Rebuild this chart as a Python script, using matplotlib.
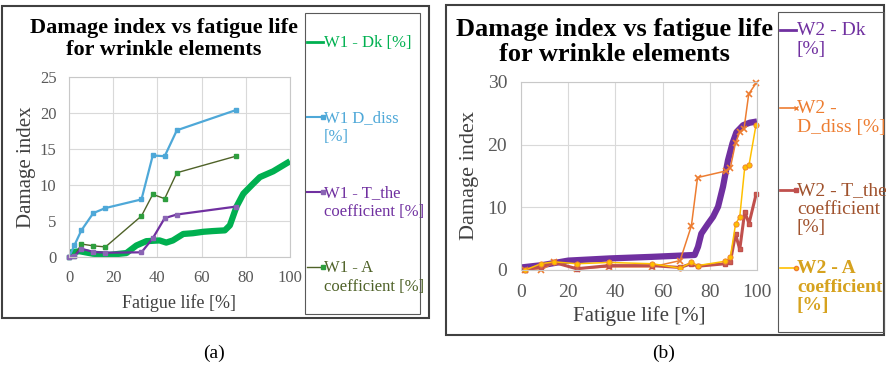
import matplotlib
matplotlib.use("Agg")
import matplotlib.pyplot as plt
from matplotlib.lines import Line2D
from matplotlib.patches import Rectangle

plt.rcParams['font.family'] = ['Liberation Serif', 'DejaVu Serif']

# ---- panel (a) data, W1 ----
w1_dk_x = [0, 2, 4.8, 10.9, 18.4, 26, 30.5, 35, 41, 44, 47, 51.7, 56, 60.7, 65, 70.5, 72.8, 75.8, 78.9, 83.4, 86.4, 92.4, 100]
w1_dk_y = [0.6, 0.7, 0.8, 0.45, 0.3, 0.55, 1.6, 2.2, 2.3, 2.0, 2.3, 3.2, 3.3, 3.5, 3.6, 3.7, 4.4, 7.0, 8.8, 10.2, 11.1, 11.9, 13.3]
w1_x = [0, 2.4, 5.6, 11, 16.5, 32.8, 37.9, 43.3, 48.8, 75.5]
w1_ddiss = [0, 1.6, 3.7, 6.1, 6.8, 8.0, 14.1, 14.0, 17.6, 20.4]
w1_tthe = [0, 0.1, 1.15, 0.7, 0.6, 0.65, 2.6, 5.4, 5.9, 7.0]
w1_acoef = [0, 0.1, 1.8, 1.55, 1.4, 5.7, 8.7, 8.1, 11.7, 14.0]

# ---- panel (b) data, W2 ----
w2_dk_x = [0, 9.4, 20, 37.7, 55.6, 73.6, 75, 76.4, 79.3, 81.4, 83.5, 85.6, 87.7, 89.6, 91.3, 94.1, 96.9, 100]
w2_dk_y = [0.4, 0.8, 1.5, 1.85, 2.1, 2.4, 3.7, 5.8, 7.4, 8.5, 10.1, 13.3, 17.5, 20.2, 22.0, 23.1, 23.5, 23.7]
w2_ddiss_x = [1.7, 8.5, 14.1, 23.6, 37.2, 55.6, 67.4, 72.2, 74.8, 86.8, 88.7, 90.9, 92.7, 94.5, 96.5, 99.6]
w2_ddiss_y = [0, 0, 1.2, 0.2, 0.5, 0.5, 1.5, 7.05, 14.75, 15.8, 16.3, 20.3, 22.0, 22.55, 28.1, 29.8]
w2_x = [1.7, 8.5, 14.1, 23.6, 37.2, 55.6, 67.4, 72.2, 74.8, 86.6, 88.7, 90.9, 92.7, 94.8, 96.6, 99.6]
w2_tthe = [0, 0.5, 1.2, 0.2, 0.7, 0.7, 0.4, 1.0, 0.6, 1.0, 1.3, 5.7, 3.3, 9.3, 7.4, 12.05]
w2_acoef = [0, 1.0, 1.3, 1.0, 1.2, 1.0, 0.3, 1.2, 0.7, 1.4, 2.0, 7.3, 8.5, 16.4, 16.7, 23.2]

W, H = 886, 369
fig = plt.figure(figsize=(W / 100, H / 100), dpi=100)


def px_rect(x0, y0, x1, y1):
    return [x0 / W, 1 - y1 / H, (x1 - x0) / W, (y1 - y0) / H]


def frame(x0, y0, x1, y1, lw, col):
    r = Rectangle((x0 / W, 1 - y1 / H), (x1 - x0) / W, (y1 - y0) / H,
                  transform=fig.transFigure, fill=False, lw=lw, ec=col)
    fig.add_artist(r)


def style_axes(ax, fs, pad):
    ax.grid(color='#D9D9D9', lw=0.8)
    ax.set_axisbelow(True)
    for s in ax.spines.values():
        s.set_color('#C8C8C8')
        s.set_linewidth(0.8)
    ax.tick_params(length=0, labelsize=fs, colors='#595959', pad=pad)


def legend_entry(x, yc, txt, col, handle, bold=False, fs=12, ls=1.2):
    # yc = centre of first text line (px from top); handle drawn there
    fig.add_artist(Line2D([x / W, (x + 16) / W], [1 - yc / H, 1 - yc / H],
                          transform=fig.transFigure, **handle))
    top = yc - fs * 1.389 * 0.4
    fig.text((x + 17) / W, 1 - top / H, txt, color=col, fontsize=fs, va='top',
             ha='left', linespacing=ls, fontweight='bold' if bold else 'normal',
             transform=fig.transFigure)


# ===== panel (a) =====
frame(2, 6, 429, 318, 1.5, '#404040')
frame(305, 13, 420, 314, 0.8, '#595959')
axa = fig.add_axes(px_rect(69, 77, 290, 257))
style_axes(axa, 12, 9)
axa.plot(w1_dk_x, w1_dk_y, color='#00B050', lw=4.5, solid_capstyle='butt')
axa.plot(w1_x, w1_ddiss, color='#4EA8D8', lw=1.6, marker='s', ms=3, clip_on=False)
axa.plot(w1_x, w1_acoef, color='#4F6228', lw=1.0, marker='s', ms=3,
         mfc='#2E9E3E', mec='#2E9E3E', clip_on=False)
axa.plot(w1_x, w1_tthe, color='#7030A0', lw=1.6, marker='s', ms=3,
         mfc='#8A64B4', mec='#8A64B4', clip_on=False)
axa.set_xlim(0, 100)
axa.set_ylim(0, 25)
axa.set_xticks(range(0, 101, 20))
axa.set_yticks(range(0, 26, 5))
axa.set_xlabel('Fatigue life [%]', fontsize=13, color='#404040', labelpad=6)
axa.set_ylabel('Damage index', fontsize=15, color='#404040', labelpad=3)
fig.text(164 / W, 1 - 39 / H, 'Damage index vs fatigue life\nfor wrinkle elements',
         ha='center', va='center', fontsize=16, fontweight='bold', linespacing=1.12)

legend_entry(307, 42, 'W1 - Dk [%]', '#00B050', dict(color='#00B050', lw=2))
legend_entry(307, 117, 'W1 D_diss\n[%]', '#4EA8D8',
             dict(color='#4EA8D8', lw=1.5, marker='s', ms=2.5, markevery=[1]), ls=1.25)
legend_entry(307, 192, 'W1 - T_the\ncoefficient [%]', '#7030A0',
             dict(color='#7030A0', lw=1.5, marker='s', ms=2.5, markevery=[1], mfc='#8A64B4', mec='#8A64B4'), ls=1.25)
legend_entry(307, 267, 'W1 - A\ncoefficient [%]', '#4F6228',
             dict(color='#4F6228', lw=1.0, marker='s', ms=2.5, markevery=[1], mfc='#2E9E3E', mec='#2E9E3E'), ls=1.25)

# ===== panel (b) =====
frame(446, 5, 884, 335, 1.5, '#404040')
frame(778, 12, 884, 332, 0.8, '#595959')
axb = fig.add_axes(px_rect(521, 82, 757, 270))
style_axes(axb, 14, 10)
axb.plot(w2_dk_x, w2_dk_y, color='#7030A0', lw=4.5, solid_capstyle='butt')
axb.plot(w2_ddiss_x, w2_ddiss_y, color='#ED7D31', lw=1.1, marker='x', ms=4, mew=1.2, clip_on=False)
axb.plot(w2_x, w2_tthe, color='#C0504D', lw=2.2, marker='s', ms=3.5, mfc='#D0604D', clip_on=False)
axb.plot(w2_x, w2_acoef, color='#FFC000', lw=1.1, marker='o', ms=3.8,
         mfc='#FFC000', mec='#ED7D31', mew=0.6, clip_on=False)
axb.set_xlim(0, 100)
axb.set_ylim(0, 30)
axb.set_xticks(range(0, 101, 20))
axb.set_yticks(range(0, 31, 10))
axb.set_xlabel('Fatigue life [%]', fontsize=15, color='#404040', labelpad=4)
axb.set_ylabel('Damage index', fontsize=16, color='#404040', labelpad=6)
fig.text(614 / W, 1 - 42 / H, 'Damage index vs fatigue life\nfor wrinkle elements',
         ha='center', va='center', fontsize=19, fontweight='bold', linespacing=1.15)

legend_entry(780, 30, 'W2 - Dk\n[%]', '#7030A0', dict(color='#7030A0', lw=2), fs=14, ls=1.12)
legend_entry(780, 108, 'W2 -\nD_diss [%]', '#ED7D31',
             dict(color='#ED7D31', lw=1.2, marker='x', ms=3, markevery=[1]), fs=14, ls=1.12)
legend_entry(780, 190, 'W2 - T_the\ncoefficient\n[%]', '#A0522D',
             dict(color='#C0504D', lw=2, marker='s', ms=3, markevery=[1]), fs=14, ls=1.12)
legend_entry(780, 268, 'W2 - A\ncoefficient\n[%]', '#D6A21E',
             dict(color='#FFC000', lw=1.2, marker='o', ms=3, markevery=[1], mec='#ED7D31'),
             bold=True, fs=14, ls=1.12)

# captions
fig.text(214 / W, 1 - 353 / H, '(a)', ha='center', va='center', fontsize=14)
fig.text(664 / W, 1 - 353 / H, '(b)', ha='center', va='center', fontsize=14)

fig.savefig('out.png', dpi=100)
